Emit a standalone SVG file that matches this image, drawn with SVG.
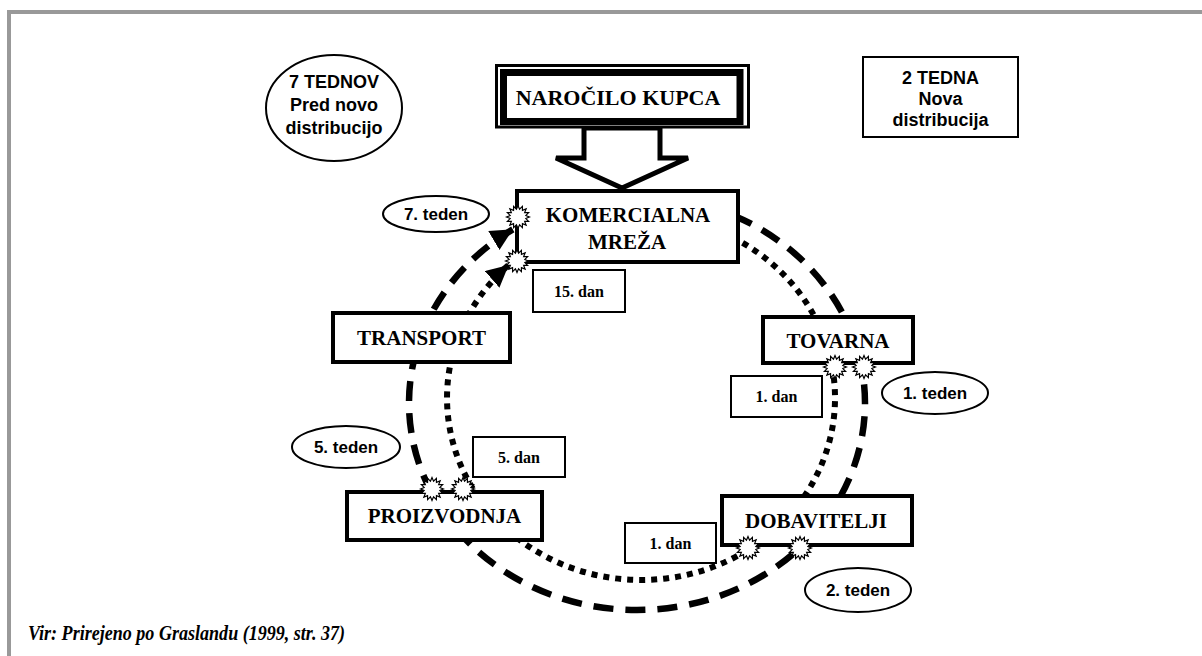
<svg xmlns="http://www.w3.org/2000/svg" xmlns:xlink="http://www.w3.org/1999/xlink" width="1202" height="656" viewBox="0 0 1202 656">
  <style>
    .box { fill: #fff; stroke: #000; stroke-width: 4; }
    .tag { fill: #fff; stroke: #000; stroke-width: 2; }
    .oval { fill: #fff; stroke: #000; stroke-width: 2; }
    .serif { font-family: "Liberation Serif", "Times New Roman", serif; font-weight: bold; fill: #000; text-anchor: middle; }
    .sans { font-family: "Liberation Sans", Arial, sans-serif; font-weight: bold; fill: #000; text-anchor: middle; }
    .lbl { font-size: 21px; }
    .day { font-size: 16px; }
    .week { font-size: 17px; }
    .big { font-size: 18px; }
    .dashed { fill: none; stroke: #000; stroke-width: 6.5; stroke-dasharray: 20 12; }
    .dotted { fill: none; stroke: #000; stroke-width: 6; stroke-dasharray: 6 6; }
    .burst { fill: #fff; stroke: #000; stroke-width: 1.2; }
  </style>
  <defs>
    <marker id="head" markerUnits="userSpaceOnUse" markerWidth="26" markerHeight="24" refX="22" refY="11" orient="auto">
      <path d="M0,0 L22,11 L0,22 Z" fill="#000"/>
    </marker>
    <polygon id="star" class="burst" points="11.5,0 7.85,1.56 10.63,4.4 6.65,4.45 8.13,8.13 4.45,6.65 4.4,10.63 1.56,7.85 0,11.5 -1.56,7.85 -4.4,10.63 -4.45,6.65 -8.13,8.13 -6.65,4.45 -10.63,4.4 -7.85,1.56 -11.5,0 -7.85,-1.56 -10.63,-4.4 -6.65,-4.45 -8.13,-8.13 -4.45,-6.65 -4.4,-10.63 -1.56,-7.85 0,-11.5 1.56,-7.85 4.4,-10.63 4.45,-6.65 8.13,-8.13 6.65,-4.45 10.63,-4.4 7.85,-1.56"/>
  </defs>

  <rect width="1202" height="656" fill="#fff"/>
  <!-- page frame -->
  <path d="M9,656 V12 H1202" fill="none" stroke="#999" stroke-width="4"/>

  <!-- connectors -->
  <g id="connectors">
    <!-- order arrow into the commercial network -->
    <polygon points="584,128 584,158 556,158 622,188 688,158 660,158 660,128" fill="#fff" stroke="#000" stroke-width="5" stroke-linejoin="miter"/>
    <!-- outer loop: before new distribution (weeks) -->
    <path class="dashed" d="M733.4,215.4 A228,207 0 1 1 512.8,229.4" marker-end="url(#head)"/>
    <!-- inner loop: new distribution (days) -->
    <path class="dotted" d="M732.1,237.3 A194,182 0 1 1 508.7,264.9" marker-end="url(#head)"/>
  </g>

  <!-- summary bubbles -->
  <g id="before">
    <ellipse class="oval" cx="334" cy="108" rx="68" ry="53"/>
    <text class="sans big" x="334" y="88">7 TEDNOV</text>
    <text class="sans big" x="334" y="111">Pred novo</text>
    <text class="sans big" x="334" y="134">distribucijo</text>
  </g>
  <g id="after">
    <rect class="tag" x="863" y="57" width="155" height="80"/>
    <text class="sans big" x="940.5" y="84">2 TEDNA</text>
    <text class="sans big" x="940.5" y="105">Nova</text>
    <text class="sans big" x="940.5" y="126">distribucija</text>
  </g>

  <!-- main nodes -->
  <g id="narocilo">
    <rect x="496.5" y="65.5" width="252" height="61.5" fill="#fff" stroke="#000" stroke-width="3"/>
    <rect x="503.5" y="72.5" width="236.5" height="49" fill="none" stroke="#000" stroke-width="7"/>
    <text class="serif" x="618" y="105" font-size="22">NAROČILO KUPCA</text>
  </g>
  <g id="komercialna">
    <rect class="box" x="517" y="191" width="221" height="71"/>
    <text class="serif lbl" x="628" y="222">KOMERCIALNA</text>
    <text class="serif lbl" x="627" y="249">MREŽA</text>
  </g>
  <g id="tovarna">
    <rect class="box" x="763" y="317" width="150" height="46"/>
    <text class="serif lbl" x="838" y="348">TOVARNA</text>
  </g>
  <g id="dobavitelji">
    <rect class="box" x="722" y="496" width="190" height="49"/>
    <text class="serif lbl" x="816" y="528">DOBAVITELJI</text>
  </g>
  <g id="proizvodnja">
    <rect class="box" x="347" y="492" width="195" height="48"/>
    <text class="serif lbl" x="444.5" y="523">PROIZVODNJA</text>
  </g>
  <g id="transport">
    <rect class="box" x="333" y="313" width="177" height="49"/>
    <text class="serif lbl" x="421.5" y="345">TRANSPORT</text>
  </g>

  <!-- day labels (new distribution) -->
  <g id="dan-15">
    <rect class="tag" x="533" y="270" width="92" height="42"/>
    <text class="serif day" x="579" y="297">15. dan</text>
  </g>
  <g id="dan-1-tovarna">
    <rect class="tag" x="731" y="376" width="91" height="41"/>
    <text class="serif day" x="776.5" y="402">1. dan</text>
  </g>
  <g id="dan-5">
    <rect class="tag" x="473" y="437" width="92" height="40"/>
    <text class="serif day" x="519" y="463">5. dan</text>
  </g>
  <g id="dan-1-dobavitelji">
    <rect class="tag" x="625" y="523" width="91" height="40"/>
    <text class="serif day" x="670.5" y="549">1. dan</text>
  </g>

  <!-- week labels (before new distribution) -->
  <g id="teden-7">
    <ellipse class="oval" cx="436" cy="214" rx="53" ry="18"/>
    <text class="sans week" x="436" y="220">7. teden</text>
  </g>
  <g id="teden-1">
    <ellipse class="oval" cx="935" cy="393" rx="53" ry="21"/>
    <text class="sans week" x="935" y="399">1. teden</text>
  </g>
  <g id="teden-5">
    <ellipse class="oval" cx="346" cy="447" rx="54" ry="21"/>
    <text class="sans week" x="346" y="453">5. teden</text>
  </g>
  <g id="teden-2">
    <ellipse class="oval" cx="858" cy="590" rx="53" ry="22"/>
    <text class="sans week" x="858" y="596">2. teden</text>
  </g>

  <!-- hand-over points -->
  <g id="ports">
    <use xlink:href="#star" x="518" y="217"/>
    <use xlink:href="#star" x="517" y="261"/>
    <use xlink:href="#star" x="835" y="367"/>
    <use xlink:href="#star" x="864" y="367"/>
    <use xlink:href="#star" x="748" y="548"/>
    <use xlink:href="#star" x="800" y="548"/>
    <use xlink:href="#star" x="432" y="489"/>
    <use xlink:href="#star" x="463" y="489"/>
  </g>

  <!-- source note -->
  <text x="28" y="640" font-family="Liberation Serif, 'Times New Roman', serif" font-style="italic" font-weight="bold" font-size="22" textLength="317" lengthAdjust="spacingAndGlyphs">Vir: Prirejeno po Graslandu (1999, str. 37)</text>
</svg>
